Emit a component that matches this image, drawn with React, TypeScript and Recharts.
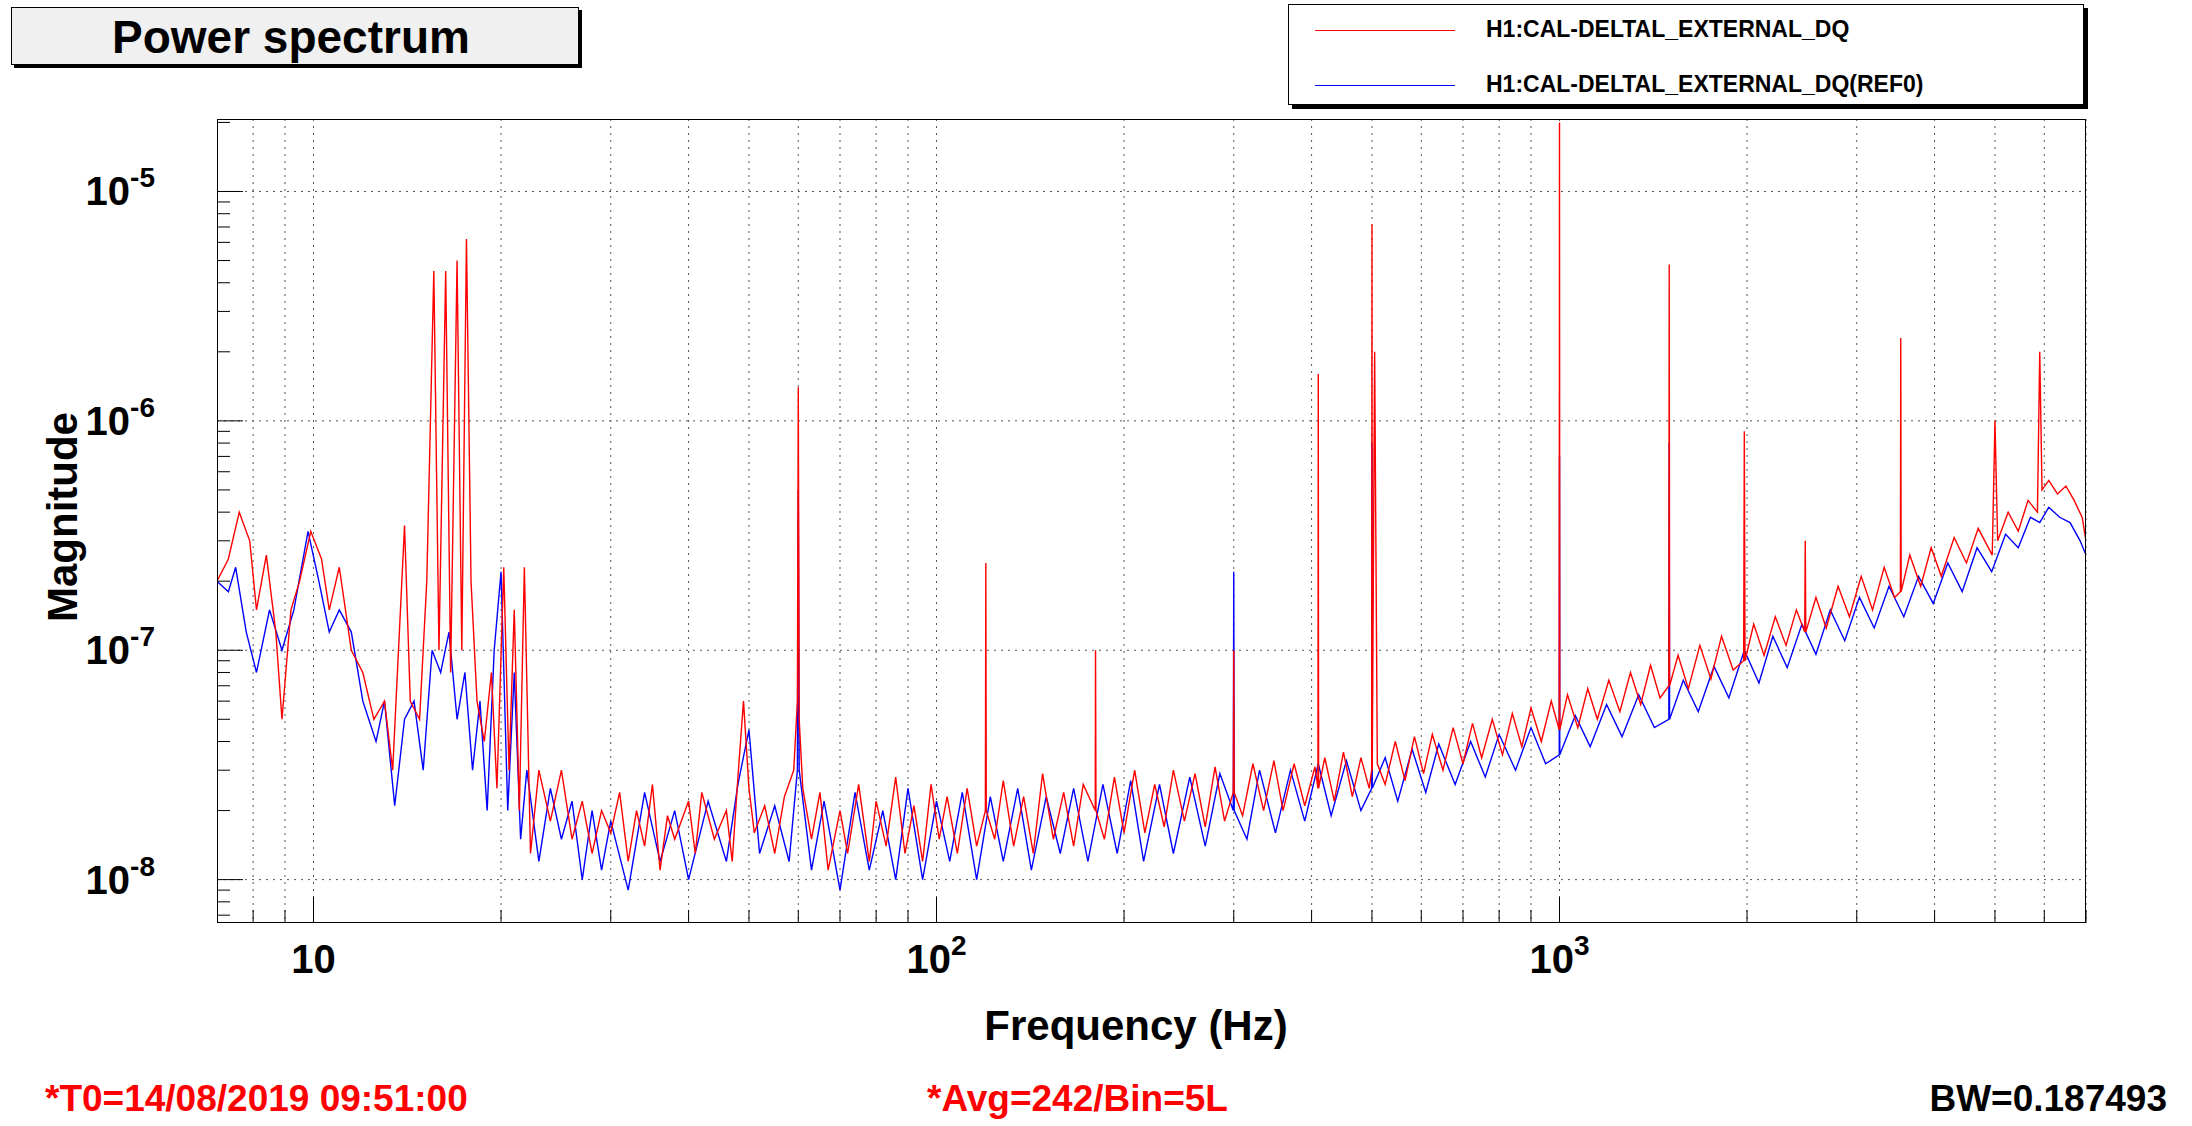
import React from 'react';
import { LineChart, Line, XAxis, YAxis, CartesianGrid } from 'recharts';

// values in units of 1e-8
const UNIT = 1e-8;

const redFreq = [
  7, 7.3, 7.6, 7.9, 8.1, 8.4, 8.7, 8.9, 9.2, 9.5, 9.9, 10.3, 10.6, 11, 11.5, 12, 12.5, 13, 13.4, 14, 14.3, 14.8, 15.2, 15.6, 15.9, 16.3, 16.6, 17, 17.3, 17.6, 17.9, 18.3, 18.8, 19.3, 19.7, 20.2, 20.6, 21, 21.4, 21.8, 22.3, 23, 24, 25, 26, 27, 28, 29,
  30, 31, 32, 33, 34, 35, 36, 37, 38, 40, 41, 42, 44, 46, 47, 48, 49, 50, 51, 53, 55, 57, 59, 59.8, 60, 60.2, 61, 63, 65, 67, 70, 72, 75, 78, 80, 83, 86, 89, 92, 95, 98, 101, 104, 108, 112, 116, 119.8, 120, 120.2, 124, 128, 133, 138, 143, 148, 154, 160, 166, 172, 179.8, 180, 180.3, 186, 193, 200, 208, 216, 224, 232, 240, 250, 260, 270, 280, 290, 299.5, 300, 300.5, 310, 322, 335, 348, 360, 375, 390, 405, 409.5, 410, 410.5, 420, 435, 450, 465, 480, 495, 499.5, 500, 500.5, 505, 510, 525, 545, 565, 585, 605, 625, 650, 675, 700, 725, 750, 780, 810, 840, 870, 900, 935, 970, 999, 1000, 1001, 1030, 1070, 1110, 1150, 1200, 1250, 1300, 1350, 1400, 1450, 1498, 1500, 1502, 1550, 1610, 1680, 1750, 1820, 1900, 1975, 1980, 1985, 2050, 2130, 2220, 2310, 2400, 2475, 2480, 2485, 2580, 2680, 2800, 2920, 3050, 3180, 3320, 3450, 3525, 3530, 3535, 3650, 3800, 3950, 4100, 4300, 4500, 4700, 4950, 5000, 5050, 5250, 5450, 5650, 5850, 5900, 5950, 6100, 6300, 6500, 6700, 6900, 7000,
];
const redVal = [
  20, 25, 40, 30, 15, 26, 12, 5, 15, 20, 33, 25, 15, 23, 10, 8, 5, 6, 3, 35, 6, 5, 20, 450, 10, 450, 8, 500, 10, 620, 20, 6, 4, 8, 2.5, 23, 3, 15, 2, 23, 1.3, 3, 1.8, 3, 1.5, 2.2, 1.3, 2.0,
  1.6, 2.4, 1.2, 2.0, 1.4, 2.6, 1.1, 1.9, 1.5, 2.2, 1.3, 2.4, 1.5, 2.0, 1.2, 2.8, 6.0, 2.5, 1.6, 2.1, 1.3, 2.3, 3.0, 6, 140, 5, 2.5, 1.5, 2.4, 1.1, 2.0, 1.3, 2.6, 1.2, 2.2, 1.4, 2.8, 1.3, 2.1, 1.2, 2.6, 1.5, 2.3, 1.3, 2.5, 1.4, 2, 24, 2, 1.5, 2.7, 1.4, 2.3, 1.3, 2.9, 1.5, 2.4, 1.4, 2.6, 2, 10, 2, 1.5, 2.8, 1.6, 3.0, 1.6, 2.6, 1.7, 3.0, 1.8, 2.9, 1.7, 3.1, 1.8, 2.4, 10, 2.4, 1.9, 3.2, 2.0, 3.3, 2.0, 3.2, 2.1, 3.1, 2.5, 160, 2.5, 3.4, 2.2, 3.6, 2.3, 3.4, 2.5, 3, 720, 3, 200, 3.2, 2.6, 4.0, 2.7, 4.2, 2.9, 4.3, 3.0, 4.6, 3.2, 4.8, 3.4, 5.0, 3.5, 5.3, 3.8, 5.6, 4.0, 6.0, 4.5, 2000, 4.5, 6.4, 4.6, 6.8, 5.0, 7.4, 5.4, 8.0, 5.8, 8.6, 6.2, 7, 480, 7, 9.5, 6.8, 10.5, 7.5, 11.5, 8.2, 9, 90, 9, 13, 9.5, 14, 10.5, 15, 12, 30, 12, 17, 12.5, 19, 14, 21, 15, 23, 17, 18, 230, 18, 26, 19, 28, 21, 31, 24, 34, 26, 100, 30, 40, 33, 45, 40, 200, 50, 55, 48, 52, 45, 38, 30,
];

const blueFreq = [
  7, 7.3, 7.5, 7.8, 8.1, 8.5, 8.9, 9.3, 9.8, 10.2, 10.6, 11, 11.5, 12, 12.6, 13, 13.5, 14, 14.5, 15, 15.5, 16, 16.5, 17, 17.5, 18, 18.5, 19, 19.5, 20, 20.5, 21, 21.5, 22, 23, 24, 25, 26, 27, 28, 29,
  30, 32, 34, 36, 38, 40, 43, 46, 48, 50, 52, 55, 58, 59.8, 60, 60.2, 63, 66, 70, 74, 78, 82, 86, 90, 95, 100, 105, 110, 116, 122, 128, 135, 142, 150, 158, 166, 175, 185, 195, 205, 215, 228, 240, 255, 270, 285, 299.5, 300, 300.5, 315, 330, 350, 370, 390, 410, 430, 455, 480, 499.5, 500, 500.5, 525, 550, 580, 610, 640, 680, 720, 760, 800, 850, 900, 950, 999, 1000, 1001, 1060, 1120, 1190, 1260, 1340, 1420, 1498, 1500, 1502, 1580, 1670, 1770, 1870, 1980, 2090, 2200, 2320, 2450, 2580, 2720, 2870, 3030, 3200, 3380, 3570, 3770, 3980, 4200, 4430, 4680, 4940, 5200, 5450, 5700, 5900, 6100, 6350, 6600, 6850, 7000,
];
const blueVal = [
  20, 18, 23, 12, 8, 15, 10, 15, 33, 20, 12, 15, 12, 6, 4, 6, 2.1, 5, 6, 3, 10, 8, 12, 5, 8, 3, 6, 2, 10, 22, 2, 8, 1.5, 3, 1.2, 2.5, 1.5, 2.2, 1.0, 2.0, 1.1,
  1.8, 0.9, 2.4, 1.2, 2.0, 1.0, 2.2, 1.2, 2.6, 4.5, 1.3, 2.1, 1.2, 3, 50, 3, 1.1, 2.2, 0.9, 2.4, 1.1, 2.0, 1.0, 2.5, 1.0, 2.2, 1.2, 2.4, 1.0, 2.3, 1.2, 2.5, 1.1, 2.3, 1.3, 2.5, 1.2, 2.6, 1.3, 2.7, 1.2, 2.6, 1.3, 2.8, 1.4, 2.9, 2, 22, 2, 1.5, 3.0, 1.6, 3.0, 1.8, 3.2, 1.9, 3.3, 2.0, 2.5, 80, 2.5, 3.4, 2.2, 3.7, 2.4, 3.9, 2.6, 4.0, 2.8, 4.3, 3.0, 4.6, 3.2, 3.5, 70, 3.5, 5.2, 3.8, 5.8, 4.2, 6.4, 4.6, 5, 80, 5, 7.4, 5.4, 8.5, 6.2, 10, 7.2, 11.5, 8.4, 13, 9.6, 15, 11, 17, 12.5, 19, 14, 21, 16, 24, 18, 28, 22, 32, 28, 38, 36, 42, 38, 36, 30, 26,
];

const xTicks = [8, 9, 10, 20, 30, 40, 50, 60, 70, 80, 90, 100, 200, 300, 400, 500, 600, 700, 800, 900, 1000, 2000, 3000, 4000, 5000, 6000, 7000];
const yMajor = [1e-8, 1e-7, 1e-6, 1e-5];
const yTicks = [7e-9, 8e-9, 9e-9, 1e-8, 2e-8, 3e-8, 4e-8, 5e-8, 6e-8, 7e-8, 8e-8, 9e-8, 1e-7, 2e-7, 3e-7, 4e-7, 5e-7, 6e-7, 7e-7, 8e-7, 9e-7, 1e-6, 2e-6, 3e-6, 4e-6, 5e-6, 6e-6, 7e-6, 8e-6, 9e-6, 1e-5, 2e-5];

const redData = redFreq.map((f, i) => ({ f, v: redVal[i] * UNIT }));
const blueData = blueFreq.map((f, i) => ({ f, v: blueVal[i] * UNIT }));

const FONT = '"Liberation Sans", Arial, sans-serif';
const isMajor = (v: number) => Math.abs(Math.log10(v) - Math.round(Math.log10(v))) < 1e-6;

const XTick = (p: any) => {
  const v = p.payload.value;
  const major = isMajor(v);
  const exp = Math.round(Math.log10(v));
  return (
    <g>
      <line x1={p.x} x2={p.x} y1={p.y} y2={p.y - (major ? 26 : 13)} stroke="#000" />
      {major && (
        <text x={p.x} y={p.y + 50} textAnchor="middle" fontFamily={FONT} fontWeight="bold" fontSize={40}>
          {exp === 1 ? '10' : <><tspan>10</tspan><tspan dy={-18} fontSize={28}>{exp}</tspan></>}
        </text>
      )}
    </g>
  );
};

const YTick = (p: any) => {
  const v = p.payload.value;
  const major = isMajor(v);
  const exp = Math.round(Math.log10(v));
  return (
    <g>
      <line x1={p.x} x2={p.x + (major ? 26 : 13)} y1={p.y} y2={p.y} stroke="#000" />
      {major && (
        <text x={p.x - 62} y={p.y + 14} textAnchor="end" fontFamily={FONT} fontWeight="bold" fontSize={40}>
          <tspan>10</tspan>
          <tspan dy={-18} fontSize={28}>{exp}</tspan>
        </text>
      )}
    </g>
  );
};

const L = 217, T = 119, R = 2086, B = 923;

export default function App() {
  return (
    <div style={{ position: 'absolute', left: 0, top: 0, width: 2192, height: 1126, background: '#fff', fontFamily: FONT }}>
      <LineChart width={2192} height={1126} data={redData}
        margin={{ top: T, right: 2192 - R, left: L - 150, bottom: 1126 - B - 60 }}>
        <CartesianGrid stroke="#555" strokeDasharray="2 5" horizontalValues={yMajor} verticalValues={xTicks} />
        <XAxis dataKey="f" type="number" scale="log" domain={[7, 7000]} ticks={xTicks} allowDataOverflow
          height={60} tickSize={0} tickMargin={0} axisLine={false} tickLine={false} tick={<XTick />} interval={0} />
        <YAxis type="number" scale="log" domain={[6.47e-9, 2.07e-5]} ticks={yTicks} allowDataOverflow
          width={150} tickSize={0} tickMargin={0} axisLine={false} tickLine={false} tick={<YTick />} interval={0} />
        <Line data={blueData} dataKey="v" stroke="#0000ff" strokeWidth={1.4} dot={false} isAnimationActive={false} />
        <Line data={redData} dataKey="v" stroke="#ff0000" strokeWidth={1.4} dot={false} isAnimationActive={false} />
      </LineChart>
      <div style={{ position: 'absolute', left: L, top: T, width: R - L - 2, height: B - T - 2, border: '1px solid #000', pointerEvents: 'none' }} />
      <div style={{ position: 'absolute', left: 11, top: 7, width: 568, height: 58, background: '#f0f0f0', border: '1px solid #000', boxShadow: '3px 3px 0 #000', fontWeight: 'bold', fontSize: 46, textAlign: 'left', paddingLeft: 100, boxSizing: 'border-box', lineHeight: '58px' }}>Power spectrum</div>
      <div style={{ position: 'absolute', left: 1288, top: 4, width: 794, height: 99, background: '#fff', border: '1px solid #000', boxShadow: '4px 4px 0 #000', fontWeight: 'bold', fontSize: 23 }}>
        <div style={{ position: 'absolute', left: 26, top: 25, width: 140, height: 1, background: '#ff0000' }} />
        <div style={{ position: 'absolute', left: 197, top: 11 }}>H1:CAL-DELTAL_EXTERNAL_DQ</div>
        <div style={{ position: 'absolute', left: 26, top: 80, width: 140, height: 1, background: '#0000ff' }} />
        <div style={{ position: 'absolute', left: 197, top: 66 }}>H1:CAL-DELTAL_EXTERNAL_DQ(REF0)</div>
      </div>
      <div style={{ position: 'absolute', left: 936, top: 1002, width: 400, textAlign: 'center', fontWeight: 'bold', fontSize: 42 }}>Frequency (Hz)</div>
      <div style={{ position: 'absolute', left: 63 - 150, top: 517 - 25, width: 300, textAlign: 'center', fontWeight: 'bold', fontSize: 42, transform: 'rotate(-90deg)', lineHeight: '50px' }}>Magnitude</div>
      <div style={{ position: 'absolute', left: 45, top: 1078, color: '#ff0000', fontWeight: 'bold', fontSize: 37 }}>*T0=14/08/2019 09:51:00</div>
      <div style={{ position: 'absolute', left: 927, top: 1078, color: '#ff0000', fontWeight: 'bold', fontSize: 37 }}>*Avg=242/Bin=5L</div>
      <div style={{ position: 'absolute', right: 25, top: 1078, color: '#000', fontWeight: 'bold', fontSize: 37 }}>BW=0.187493</div>
    </div>
  );
}
